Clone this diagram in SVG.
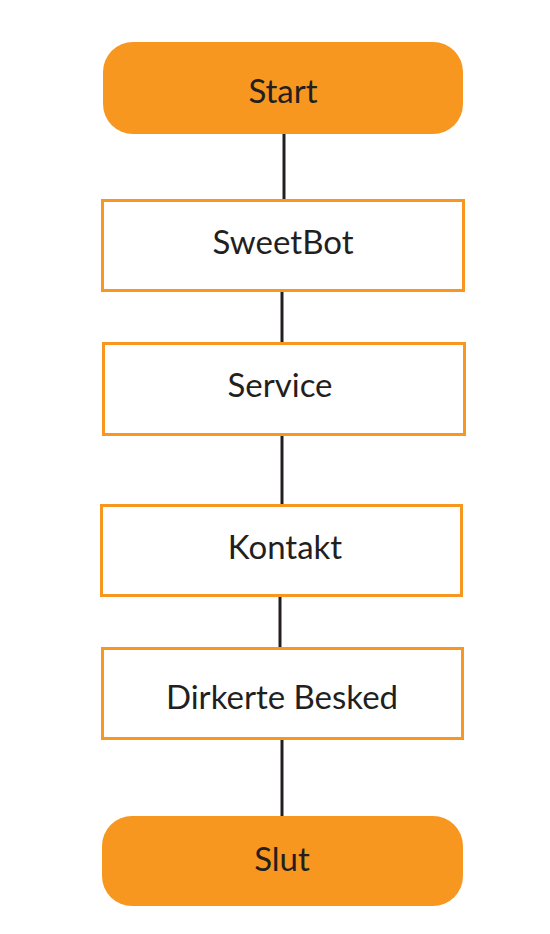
<svg xmlns="http://www.w3.org/2000/svg" width="550" height="934" viewBox="0 0 550 934">
<style>
.term{fill:#f7971f;}
.box{fill:#ffffff;stroke:#f7971f;stroke-width:3;}
.lbl{font-family:Lato,"Open Sans",sans-serif;font-size:33px;font-weight:400;fill:#231f20;text-anchor:middle;}
.con{stroke:#231f20;stroke-width:3;fill:none;}
</style>
<rect width="550" height="934" fill="#ffffff"/>
<g id="connectors">
<line class="con" x1="284" y1="134" x2="284" y2="200"/>
<line class="con" x1="282" y1="292" x2="282" y2="343"/>
<line class="con" x1="282" y1="436" x2="282" y2="505"/>
<line class="con" x1="280" y1="597" x2="280" y2="648"/>
<line class="con" x1="282" y1="740" x2="282" y2="817"/>
</g>
<g id="start">
<rect class="term" x="103" y="42" width="360" height="92" rx="30"/>
<text class="lbl" x="283" y="103">Start</text>
</g>
<g id="sweetbot">
<rect class="box" x="102.5" y="200.5" width="361" height="90"/>
<text class="lbl" x="283" y="254">SweetBot</text>
</g>
<g id="service">
<rect class="box" x="103.5" y="343.5" width="361" height="91"/>
<text class="lbl" x="280" y="397">Service</text>
</g>
<g id="kontakt">
<rect class="box" x="101.5" y="505.5" width="360" height="90"/>
<text class="lbl" x="285" y="559">Kontakt</text>
</g>
<g id="dirkerte">
<rect class="box" x="102.5" y="648.5" width="360" height="90"/>
<text class="lbl" x="282" y="709">Dirkerte Besked</text>
</g>
<g id="slut">
<rect class="term" x="102" y="816" width="361" height="90" rx="30"/>
<text class="lbl" x="282" y="871">Slut</text>
</g>
</svg>
